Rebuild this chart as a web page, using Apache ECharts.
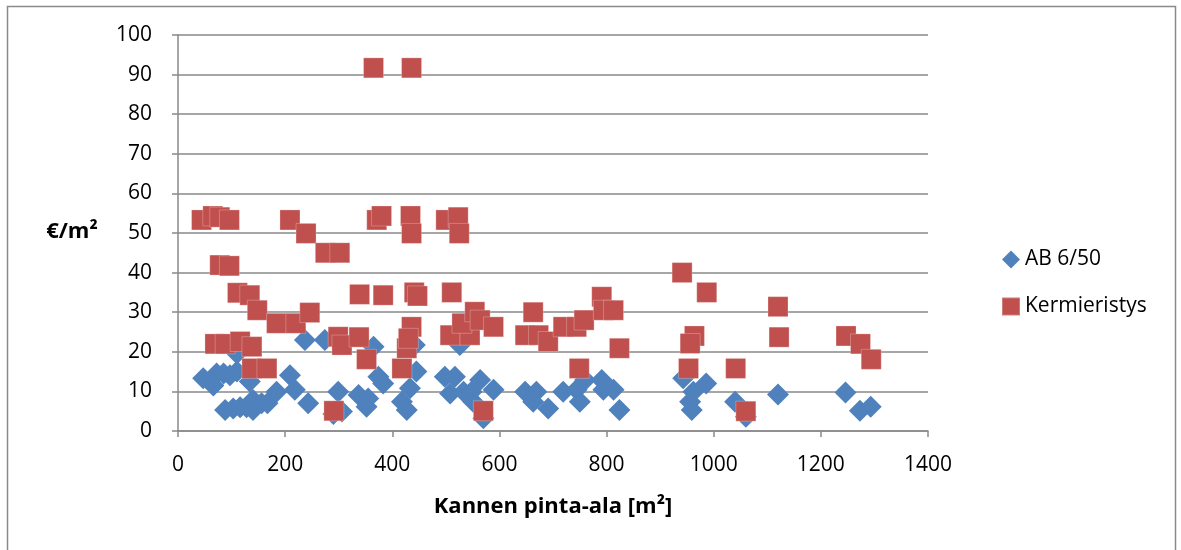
<!DOCTYPE html>
<html>
<head>
<meta charset="utf-8">
<script src="https://cdn.jsdelivr.net/npm/echarts@6/dist/echarts.min.js"></script>
<style>
  html, body { margin: 0; padding: 0; background: #fff; }
  #chart { width: 1181px; height: 550px; }
</style>
</head>
<body>
<div id="chart"></div>
<script>
// Deck area [m²] and unit cost [€/m²] for each measured bridge
const seriesNames = ['AB 6/50', 'Kermieristys'];

const abPoints = [
  [47, 13.3], [66, 11.5], [72, 14.5], [85, 14.5], [97, 14.1], [110, 15], [134, 12.5], [110, 19.6],
  [88, 5.3], [103, 5.7], [116, 6], [128, 6], [140, 5.3], [140, 7.8], [156, 7], [167, 7],
  [184, 9.9], [209, 14.1], [218, 10.4], [243, 7], [237, 23], [274, 23],
  [290, 4.3], [299, 9.9], [306, 4.9], [337, 9.1], [352, 6.1], [355, 8.2], [365, 21.3],
  [374, 13.7], [383, 12], [418, 7.4], [427, 5.3], [433, 10.8], [445, 15], [442, 21.7],
  [498, 13.7], [517, 13.7], [508, 9.5], [533, 9.9], [526, 21.7], [548, 9.9], [551, 7.4],
  [564, 12.9], [589, 10.4], [570, 3.2], [648, 9.9], [669, 9.9], [663, 7.4], [691, 5.7],
  [719, 9.9], [744, 10.4], [750, 7.4], [760, 12.9], [791, 12.9], [794, 10.4], [813, 10.4], [824, 5.3],
  [943, 13.3], [962, 9.9], [986, 12], [956, 7.4], [959, 5.3], [1040, 7.4], [1060, 3.6],
  [1120, 9.2], [1246, 9.7], [1273, 5.1], [1293, 6.1]
];

const kermPoints = [
  [44, 53.3], [65, 54.3], [78, 54], [96, 53.3], [209, 53.3], [239, 49.9], [275, 45], [302, 45],
  [371, 53.3], [380, 54.3], [434, 54.3], [436, 49.9], [500, 53.3], [523, 54], [525, 49.9],
  [365, 91.7], [436, 91.7],
  [78, 41.9], [96, 41.7], [111, 34.9], [134, 34.3], [148, 30.5], [184, 27.2], [220, 27.2], [246, 29.9],
  [339, 34.5], [383, 34.3], [441, 35], [447, 34.1], [511, 35], [436, 26.3],
  [69, 22], [88, 22], [116, 22.6], [138, 21.3], [138, 15.8], [166, 15.8], [299, 23.8], [306, 21.7],
  [338, 23.7], [352, 18.1], [418, 15.8], [427, 20.9], [430, 23.4], [291, 5.1],
  [508, 24.2], [545, 24.2], [530, 27.2], [554, 30.1], [564, 28], [589, 26.3], [570, 5.1],
  [648, 24.2], [663, 30], [673, 24.2], [691, 22.6], [719, 26.3], [744, 26.3], [758, 28], [749, 15.8],
  [791, 33.9], [794, 30.5], [813, 30.5], [824, 20.9],
  [941, 40], [987, 35], [964, 24], [956, 22.1], [953, 15.8], [1041, 15.8], [1060, 5],
  [1120, 31.4], [1122, 23.7], [1247, 24], [1274, 22], [1294, 18.1]
];

const xTitle = 'Kannen pinta-ala [m²]';
const yTitle = '€/m²';

const FONT = '"Open Sans", "Noto Sans", sans-serif';
const GRID_GRAY = '#898989';

const chart = echarts.init(document.getElementById('chart'), null, { renderer: 'canvas' });

chart.setOption({
  animation: false,
  backgroundColor: '#ffffff',
  textStyle: { fontFamily: FONT },
  grid: { left: 178, right: 253, top: 35, bottom: 119, containLabel: false },
  xAxis: {
    type: 'value',
    min: 0, max: 1400, interval: 200,
    axisLine: { show: true, lineStyle: { color: GRID_GRAY, width: 1.5 } },
    axisTick: { show: true, inside: false, length: 6, lineStyle: { color: GRID_GRAY, width: 1.5 } },
    splitLine: { show: false },
    axisLabel: { color: '#000', fontSize: 21, fontFamily: FONT, margin: 24, formatter: v => String(v) }
  },
  yAxis: {
    type: 'value',
    min: 0, max: 100, interval: 10,
    axisLine: { show: true, lineStyle: { color: GRID_GRAY, width: 1.5 } },
    axisTick: { show: true, inside: false, length: 6, lineStyle: { color: GRID_GRAY, width: 1.5 } },
    splitLine: { show: true, lineStyle: { color: GRID_GRAY, width: 1.5 } },
    axisLabel: { color: '#000', fontSize: 21, fontFamily: FONT, margin: 26, formatter: v => String(v) }
  },
  legend: {
    orient: 'vertical',
    left: 996,
    top: 244,
    itemWidth: 18,
    itemHeight: 18,
    itemGap: 26,
    textStyle: { color: '#000', fontSize: 21, fontFamily: FONT },
    data: [
      { name: seriesNames[0], icon: 'diamond' },
      { name: seriesNames[1], icon: 'rect' }
    ]
  },
  graphic: [
    {
      type: 'rect',
      silent: true,
      shape: { x: 7.5, y: 6.5, width: 1168, height: 620 },
      style: { fill: 'none', stroke: '#8a8a8a', lineWidth: 1.5 }
    },
    {
      type: 'text',
      silent: true,
      style: {
        text: xTitle, x: 553, y: 507, align: 'center', verticalAlign: 'middle',
        font: 'bold 22px ' + FONT, fill: '#000'
      }
    },
    {
      type: 'text',
      silent: true,
      style: {
        text: yTitle, x: 72, y: 232, align: 'center', verticalAlign: 'middle',
        font: 'bold 22px ' + FONT, fill: '#000'
      }
    }
  ],
  series: [
    {
      name: seriesNames[0],
      type: 'scatter',
      symbol: 'diamond',
      symbolSize: [22, 22],
      itemStyle: { color: '#4F81BD', opacity: 1 },
      data: abPoints,
      z: 2
    },
    {
      name: seriesNames[1],
      type: 'scatter',
      symbol: 'rect',
      symbolSize: [20, 20],
      itemStyle: { color: '#C0504D', opacity: 1, borderColor: 'rgba(255,255,255,0.25)', borderWidth: 1 },
      data: kermPoints,
      z: 3
    }
  ]
});
</script>
</body>
</html>
